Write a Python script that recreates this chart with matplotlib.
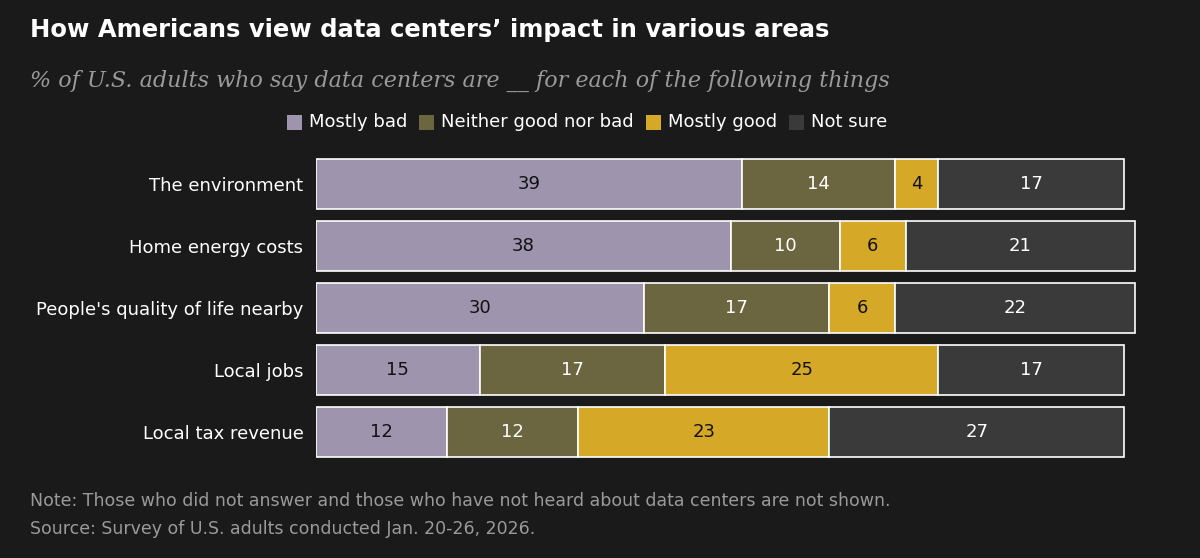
import matplotlib
matplotlib.use("Agg")
import matplotlib.pyplot as plt
from matplotlib.patches import Rectangle

categories = ["The environment", "Home energy costs", "People's quality of life nearby", "Local jobs", "Local tax revenue"]
series = ["Mostly bad", "Neither good nor bad", "Mostly good", "Not sure"]
mostly_bad = [39, 38, 30, 15, 12]
neither = [14, 10, 17, 17, 12]
mostly_good = [4, 6, 6, 25, 23]
not_sure = [17, 21, 22, 17, 27]
values = [mostly_bad, neither, mostly_good, not_sure]
colors = ["#9e94ad", "#6c6640", "#d6a827", "#3a3a3a"]
text_colors = ["#111111", "white", "#111111", "white"]

bg = "#1a1a1a"
fig = plt.figure(figsize=(12, 5.58), dpi=100, facecolor=bg)
W, H = 1200, 558
ax = fig.add_axes([316 / W, 1 - 463 / H, 824 / W, 310 / H], facecolor=bg)
ax.set_xlim(0, 824 / 10.92)
ax.set_ylim(4.5, -0.5)
for i, cat in enumerate(categories):
    left = 0
    for s in range(4):
        v = values[s][i]
        ax.barh(i, v, left=left, height=0.81, color=colors[s], edgecolor="white", linewidth=1.2)
        ax.text(left + v / 2, i, str(v), ha="center", va="center", color=text_colors[s], fontsize=13)
        left += v
ax.set_yticks(range(len(categories)))
ax.set_yticklabels(categories, color="white", fontsize=13)
ax.tick_params(axis="y", length=0, pad=9)
ax.set_xticks([])
for sp in ax.spines.values():
    sp.set_visible(False)

fig.text(30 / W, 1 - 30 / H, "How Americans view data centers’ impact in various areas", color="white",
         fontsize=17.5, fontweight="bold", va="center", ha="left")
fig.text(30 / W, 1 - 81 / H, "% of U.S. adults who say data centers are __ for each of the following things",
         color="#9a9a9a", fontsize=16, style="italic", family="DejaVu Serif", va="center", ha="left")

# legend
lx = 287
for s, name in enumerate(series):
    fig.patches.append(Rectangle((lx / W, 1 - 130 / H), 15 / W, 15 / H, transform=fig.transFigure,
                                 facecolor=colors[s], edgecolor="white" if s == 3 else colors[s], linewidth=0))
    t = fig.text((lx + 22) / W, 1 - 122 / H, name, color="white", fontsize=13, va="center", ha="left")
    fig.canvas.draw()
    bb = t.get_window_extent()
    lx = bb.x1 + 12

fig.text(30 / W, 1 - 501 / H, "Note: Those who did not answer and those who have not heard about data centers are not shown.",
         color="#9a9a9a", fontsize=12.5, va="center", ha="left")
fig.text(30 / W, 1 - 529 / H, "Source: Survey of U.S. adults conducted Jan. 20-26, 2026.",
         color="#9a9a9a", fontsize=12.5, va="center", ha="left")

fig.savefig("out.png", dpi=100, facecolor=bg)
